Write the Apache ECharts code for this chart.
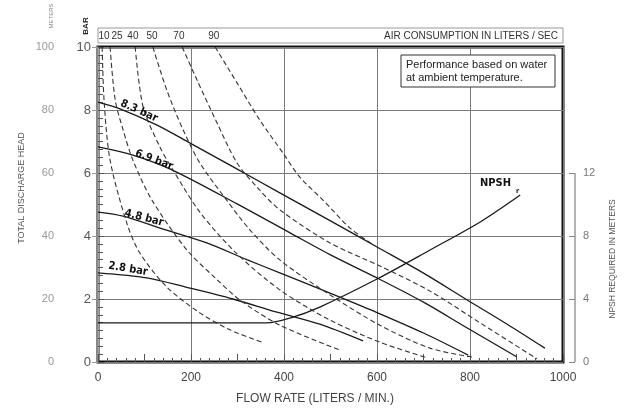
<!DOCTYPE html>
<html>
<head>
<meta charset="utf-8">
<script src="https://cdn.jsdelivr.net/npm/echarts@6/dist/echarts.min.js"></script>
<style>
  html, body { margin: 0; padding: 0; background: #fff; }
  #chart { width: 637px; height: 410px; }
</style>
</head>
<body>
<div id="chart"></div>
<script>
// pump curves, flow in l/min, head in bar
var bar83 = [[0, 8.25], [50, 8.02], [127, 7.52], [198, 6.95], [284, 6.25], [391, 5.37], [500, 4.48], [600, 3.65], [700, 2.82], [794, 1.97], [880, 1.2], [961, 0.44]];
var bar69 = [[0, 6.83], [75, 6.57], [159, 6.1], [299, 5.02], [413, 4.1], [500, 3.4], [600, 2.67], [700, 1.9], [794, 1.08], [901, 0.16]];
var bar48 = [[0, 4.76], [54, 4.63], [140, 4.22], [234, 3.78], [320, 3.25], [391, 2.83], [520, 2.06], [600, 1.57], [700, 0.92], [796, 0.22]];
var bar28 = [[0, 2.83], [105, 2.67], [191, 2.37], [290, 2.0], [385, 1.58], [477, 1.2], [570, 0.67]];
var pressureNames = ['8.3 bar', '6.9 bar', '4.8 bar', '2.8 bar'];

// air consumption curves (l/sec)
var air10 = [[9, 10], [13, 8.32], [26, 6.41], [62, 4.41], [90, 3.46], [148, 2.38], [219, 1.56], [284, 1.02], [353, 0.63]];
var air25 = [[26, 10], [37, 8.32], [54, 7.37], [75, 6.41], [116, 5.14], [191, 3.56], [252, 2.67], [305, 1.97], [391, 1.17], [520, 0.38]];
var air40 = [[80, 10], [97, 8.1], [133, 6.83], [161, 6.1], [219, 4.76], [295, 3.49], [391, 2.29], [499, 1.33], [606, 0.63], [708, 0.13]];
var air50 = [[118, 10], [148, 8.63], [183, 7.37], [219, 6.32], [273, 5.21], [327, 4.19], [391, 3.24], [499, 2.13], [606, 1.17], [714, 0.44], [804, 0.16]];
var air70 = [[181, 10], [213, 8.95], [256, 7.59], [299, 6.32], [344, 5.52], [391, 4.83], [499, 3.78], [606, 3.05], [714, 2.25], [822, 1.24], [944, 0.1]];
var air90 = [[252, 10], [299, 8.86], [348, 7.68], [398, 6.63], [434, 5.87], [484, 5.14], [542, 4.25], [589, 3.75]];
var airLabels = ['10', '25', '40', '50', '70', '90'];
var airLabelFlow = [13, 41, 75, 116, 174, 249];

// NPSH required, meters
var npsh = [[0, 2.48], [363, 2.48], [413, 2.79], [477, 3.49], [600, 5.27], [714, 7.11], [822, 8.89], [908, 10.6]];

var flowTicks = [0, 200, 400, 600, 800, 1000];
var barTicks = [0, 2, 4, 6, 8, 10];
var meterTicks = [0, 20, 40, 60, 80, 100];
var npshTicks = [0, 4, 8, 12];

var FONT = "'Liberation Sans', 'DejaVu Sans', sans-serif";
var NARROW = "'Liberation Sans Narrow', 'DejaVu Sans Condensed', sans-serif";

var chart = echarts.init(document.getElementById('chart'));

function solid(name, data) {
    return {
        name: name, type: 'line', data: data, smooth: 0.3, symbol: 'none', silent: true,
        xAxisIndex: 0, yAxisIndex: 0,
        lineStyle: { color: '#1a1a1a', width: 1.3 }
    };
}
function dashed(data) {
    return {
        type: 'line', data: data, smooth: 0.3, symbol: 'none', silent: true,
        xAxisIndex: 0, yAxisIndex: 0,
        lineStyle: { color: '#333', width: 1.1, type: [5, 3] }
    };
}

var option = {
    animation: false,
    backgroundColor: '#fff',
    grid: {
        left: 98, right: 74, top: 47, bottom: 48,
        show: true, borderColor: '#111', borderWidth: 3
    },
    xAxis: [
        {
            type: 'value', min: flowTicks[0], max: flowTicks[flowTicks.length - 1], interval: 200,
            axisLine: { show: false },
            axisTick: { show: true, inside: true, length: 4, lineStyle: { color: '#555' } },
            minorTick: { show: true, splitNumber: 10, length: 4, lineStyle: { color: '#555' } },
            axisLabel: { color: '#444', fontSize: 12, fontFamily: FONT, margin: 10, formatter: function (v) { return String(v); } },
            splitLine: { show: true, lineStyle: { color: '#7a7a7a', width: 1 } }
        },
        {
            type: 'value', min: 0, max: 1000, interval: 100, position: 'bottom',
            axisLine: { show: false },
            axisTick: { show: true, inside: true, length: 8, lineStyle: { color: '#555' } },
            axisLabel: { show: false },
            splitLine: { show: false }
        }
    ],
    yAxis: [
        {
            type: 'value', min: barTicks[0], max: barTicks[barTicks.length - 1], interval: 2, position: 'left',
            axisLine: { show: false },
            axisTick: { show: true, inside: true, length: 6, lineStyle: { color: '#555' } },
            minorTick: { show: true, splitNumber: 8, length: 5, lineStyle: { color: '#555' } },
            axisLabel: { color: '#555', fontSize: 13, fontFamily: FONT, margin: 7 },
            splitLine: { show: true, lineStyle: { color: '#7a7a7a', width: 1 } }
        },
        {
            type: 'value', min: meterTicks[0], max: meterTicks[meterTicks.length - 1], interval: 20,
            position: 'left', offset: 36,
            axisLine: { show: true, lineStyle: { color: '#b0b0b0', width: 1.5 } },
            axisTick: { show: true, length: 6, lineStyle: { color: '#999' } },
            axisLabel: { color: '#999', fontSize: 11, fontFamily: FONT, margin: 8 },
            splitLine: { show: false }
        },
        {
            type: 'value', min: 0, max: 20, interval: 4, position: 'right', offset: 12,
            axisLine: { show: false },
            axisTick: { show: true, inside: true, length: 6, customValues: npshTicks, lineStyle: { color: '#888' } },
            axisLabel: {
                color: '#777', fontSize: 11, fontFamily: FONT, margin: 8, customValues: npshTicks,
                formatter: function (v) { return v <= 12 ? String(v) : ''; }
            },
            splitLine: { show: false }
        }
    ],
    series: [
        solid(pressureNames[0], bar83),
        solid(pressureNames[1], bar69),
        solid(pressureNames[2], bar48),
        solid(pressureNames[3], bar28),
        dashed(air10), dashed(air25), dashed(air40), dashed(air50), dashed(air70), dashed(air90),
        {
            name: 'NPSHr', type: 'line', data: npsh, smooth: 0.3, symbol: 'none', silent: true,
            xAxisIndex: 0, yAxisIndex: 2,
            lineStyle: { color: '#1a1a1a', width: 1.3 }
        }
    ]
};
chart.setOption(option);

// overlays: titles, air strip, notes
var xr = chart.convertToPixel({ xAxisIndex: 0 }, 1000);
var xl = chart.convertToPixel({ xAxisIndex: 0 }, 0);
var g = [];
function txt(x, y, s, font, color, extra) {
    var o = {
        type: 'text', x: x, y: y, silent: true, z: 20,
        style: { text: s, font: font, fill: color, align: 'center', verticalAlign: 'middle' }
    };
    if (extra) {
        for (var k in extra) {
            if (k === 'style') { for (var j in extra.style) o.style[j] = extra.style[j]; }
            else o[k] = extra[k];
        }
    }
    g.push(o);
}

// right NPSH axis line 0..12
g.push({
    type: 'line', silent: true, z: 20,
    shape: { x1: xr + 12, y1: chart.convertToPixel({ yAxisIndex: 2 }, 0), x2: xr + 12, y2: chart.convertToPixel({ yAxisIndex: 2 }, 12) },
    style: { stroke: '#999', lineWidth: 1.5 }
});

// air consumption strip
g.push({ type: 'rect', silent: true, z: 20, shape: { x: xl, y: 28, width: xr - xl, height: 15 }, style: { fill: 'none', stroke: '#999', lineWidth: 1 } });
txt(xr - 5, 36, 'AIR CONSUMPTION IN LITERS / SEC', '10px ' + FONT, '#333', { style: { align: 'right' } });
for (var i = 0; i < airLabels.length; i++) {
    txt(chart.convertToPixel({ xAxisIndex: 0 }, airLabelFlow[i]), 36, airLabels[i], '10px ' + FONT, '#333');
}

// note box
g.push({ type: 'rect', silent: true, z: 20, shape: { x: 401, y: 55, width: 154, height: 32 }, style: { fill: '#fff', stroke: '#333', lineWidth: 1 } });
txt(406, 65, 'Performance based on water', '11px ' + FONT, '#222', { style: { align: 'left' } });
txt(406, 78, 'at ambient temperature.', '11px ' + FONT, '#222', { style: { align: 'left' } });

// axis titles
txt(22, 188, 'TOTAL DISCHARGE HEAD', '9px ' + FONT, '#555', { rotation: Math.PI / 2 });
txt(51, 16, 'METERS', '6px ' + FONT, '#888', { rotation: Math.PI / 2 });
txt(86, 26, 'BAR', 'bold 8px ' + FONT, '#222', { rotation: Math.PI / 2 });
txt(613, 259, 'NPSH REQUIRED IN METERS', '8.5px ' + FONT, '#555', { rotation: Math.PI / 2 });
txt(315, 399, 'FLOW RATE (LITERS / MIN.)', '12px ' + FONT, '#444');

// curve labels
txt(139, 111, pressureNames[0], 'bold 11px ' + NARROW, '#111', { rotation: -0.42 });
txt(154, 160, pressureNames[1], 'bold 11px ' + NARROW, '#111', { rotation: -0.36 });
txt(144, 218, pressureNames[2], 'bold 11px ' + NARROW, '#111', { rotation: -0.26 });
txt(128, 269, pressureNames[3], 'bold 11px ' + NARROW, '#111', { rotation: -0.17 });
txt(480, 183, 'NPSH', 'bold 11px ' + NARROW, '#111', { style: { align: 'left' } });
txt(516, 191, 'r', 'bold 7px ' + NARROW, '#111', { style: { align: 'left' } });

chart.setOption({ graphic: g });
</script>
</body>
</html>
